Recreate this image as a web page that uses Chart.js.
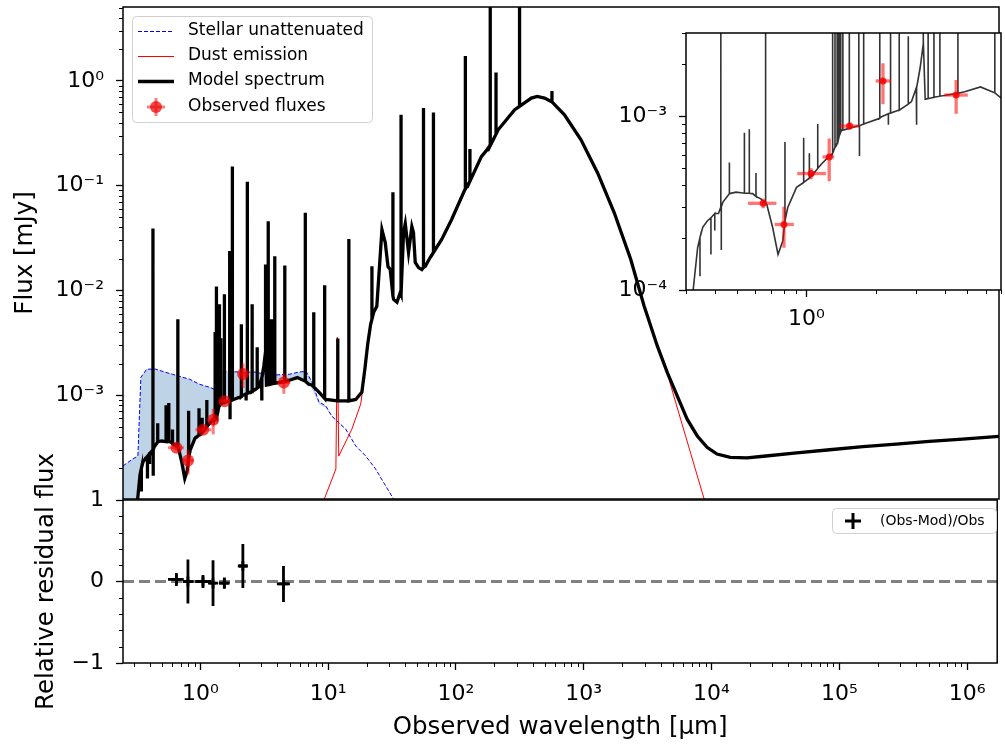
<!DOCTYPE html>
<html lang="en">
<head>
<meta charset="UTF-8">
<title>SED fit</title>
<script src="https://cdn.jsdelivr.net/npm/chart.js@4.4.1/dist/chart.umd.min.js"></script>
<style>
  html, body { margin: 0; padding: 0; background: #fff; }
  body { width: 1005px; height: 748px; position: relative; overflow: hidden; }
  canvas { position: absolute; }
</style>
</head>
<body>
<canvas id="sedMain" width="1005" height="505" style="left:0;top:0"></canvas>
<canvas id="sedResid" width="1005" height="348" style="left:0;top:400px"></canvas>
<canvas id="sedInset" width="405" height="320" style="left:600px;top:20px"></canvas>
<script>
// --- axis ranges ---
const X_MIN = 0.248, X_MAX = 1.72e6;
const Y_MIN = 1.02e-4, Y_MAX = 5.07;
const INSET_X_MIN = 0.30, INSET_X_MAX = 7.0;
const INSET_Y_MIN = 1e-4, INSET_Y_MAX = 3.0e-3;

// --- model continuum (um, mJy) ---
const contWl = [0.31, 0.318, 0.323, 0.337, 0.355, 0.372, 0.40, 0.415, 0.434, 0.463, 0.495, 0.584, 0.634, 0.673,
  0.714, 0.753, 0.79, 0.83, 0.906, 1.0, 1.058, 1.168, 1.247, 1.30, 1.36, 1.42, 1.58, 1.81, 2.12, 2.51, 2.86,
  3.0, 3.12, 3.22, 3.28, 3.48, 4.1, 4.87, 5.7, 6.56, 7.0, 7.42, 8.41, 9.53, 12.0, 14.4, 16.3, 18.2, 19.2, 20.2,
  21.3, 22.5, 23.8, 25.4, 26.1, 27.7, 29.1, 30.3, 32.2, 34.2, 36.3, 38.5, 39.7, 42.1, 44.7, 46.0, 47.5, 50.4,
  53.5, 56.8, 62.1, 65.9, 76.4, 91.4, 116, 156, 211, 284, 383, 426, 486, 547, 695, 936, 1262, 1702, 2290, 2910,
  3090, 3690, 4420, 5280, 6310, 7550, 9030, 10800, 13700, 18500, 24900, 45200, 82000, 149000, 271000, 491000,
  893000, 1720000];
const contFlux = [6.0e-5, 8.0e-5, 1.03e-4, 1.75e-4, 2.3e-4, 2.5e-4, 2.75e-4, 2.75e-4, 3.2e-4, 3.58e-4, 3.65e-4,
  3.58e-4, 3.34e-4, 3.1e-4, 2.28e-4, 1.6e-4, 1.92e-4, 2.98e-4, 3.89e-4, 4.27e-4, 4.56e-4, 5.33e-4, 5.82e-4,
  6.1e-4, 7.0e-4, 8.3e-4, 8.6e-4, 9.1e-4, 9.9e-4, 1.08e-3, 1.21e-3, 1.45e-3, 1.9e-3, 2.7e-3, 1.25e-3, 1.27e-3,
  1.32e-3, 1.38e-3, 1.47e-3, 1.36e-3, 1.27e-3, 1.25e-3, 1.07e-3, 9.1e-4, 8.8e-4, 8.8e-4, 9.1e-4, 1.07e-3,
  1.77e-3, 3.06e-3, 4.74e-3, 6.17e-3, 7.04e-3, 0.023, 0.038, 0.0286, 0.0169, 0.0158, 0.0082, 0.0077, 0.0096,
  0.0357, 0.0434, 0.023, 0.0407, 0.0357, 0.0185, 0.0165, 0.0158, 0.0169, 0.0206, 0.023, 0.0306, 0.0475, 0.0916,
  0.189, 0.341, 0.53, 0.684, 0.709, 0.684, 0.635, 0.474, 0.274, 0.132, 0.055, 0.0197, 0.0071, 0.0057, 0.00295,
  1.64e-3, 9.85e-4, 5.9e-4, 4.1e-4, 3.18e-4, 2.74e-4, 2.55e-4, 2.52e-4, 2.61e-4, 2.81e-4, 3.01e-4, 3.22e-4,
  3.41e-4, 3.62e-4, 3.81e-4, 4.04e-4];

// --- nebular lines / absorption features: wavelength, continuum under it, tip ---
const lineWl = [0.345, 0.385, 0.40, 0.425, 0.427, 0.463, 0.538, 0.565, 0.604, 0.665, 0.807, 0.973, 1.03, 1.12,
  1.30, 1.331, 1.36, 1.38, 1.398, 1.41, 1.44, 1.536, 1.689, 1.70, 1.773, 2.083, 2.27, 2.32, 2.53, 2.77, 3.01,
  3.218, 3.378, 3.58, 3.8, 4.55, 6.58, 7.66, 9.32, 11.8, 14.4, 21.8, 31.8, 36.8, 55.1, 65.9, 117, 127, 183, 203,
  310, 555];
const lineBase = [2.0e-4, 2.6e-4, 2.75e-4, 3.0e-4, 3.0e-4, 3.58e-4, 3.6e-4, 3.6e-4, 3.45e-4, 3.15e-4, 2.5e-4,
  4.15e-4, 4.4e-4, 5.0e-4, 6.1e-4, 6.6e-4, 7.0e-4, 7.4e-4, 8.0e-4, 8.1e-4, 8.3e-4, 8.5e-4, 8.8e-4, 8.8e-4,
  9.0e-4, 9.7e-4, 1.03e-3, 1.04e-3, 1.08e-3, 1.17e-3, 1.45e-3, 2.6e-3, 1.26e-3, 1.28e-3, 1.3e-3, 1.35e-3,
  1.36e-3, 1.2e-3, 9.3e-4, 8.8e-4, 8.8e-4, 5.3e-3, 0.0088, 0.0092, 0.0166, 0.023, 0.093, 0.11, 0.24, 0.31,
  0.57, 0.63];
const linePeak = [1.2e-4, 1.6e-4, 2.2e-4, 0.039, 1.7e-4, 5.4e-4, 8.0e-4, 8.4e-4, 4.7e-4, 5.3e-3, 7.1e-4, 7.5e-4,
  6.1e-4, 9.0e-4, 4.0e-3, 0.0109, 4.5e-3, 3.2e-3, 7.36e-3, 5.0e-3, 3.5e-3, 9.16e-3, 0.0237, 5.9e-4, 0.152,
  4.75e-3, 8.9e-4, 0.109, 7.36e-3, 2.87e-3, 8.9e-4, 0.0177, 0.0457, 5.3e-3, 0.0212, 0.0173, 0.055, 6.2e-3,
  0.0112, 3.47e-3, 0.031, 0.017, 0.0863, 0.474, 0.55, 0.50, 1.73, 0.224, 20, 1.2, 20, 0.80];

// --- stellar unattenuated ---
const starWl = [0.248, 0.296, 0.324, 0.342, 0.38, 0.447, 0.525, 0.606, 0.724, 0.821, 0.982, 1.175, 1.28, 1.42,
  1.58, 2.01, 2.67, 3.44, 4.92, 5.87, 6.67, 7.42, 8.41, 9.03, 9.53, 10.6, 13.6, 16.3, 19.5, 23.3, 27.9, 32.2, 35.2];
const starFlux = [2.11e-4, 2.46e-4, 2.62e-4, 1.48e-3, 1.77e-3, 1.77e-3, 1.66e-3, 1.58e-3, 1.48e-3, 1.42e-3,
  1.27e-3, 1.19e-3, 1.14e-3, 1.65e-3, 1.69e-3, 1.66e-3, 1.66e-3, 1.55e-3, 1.58e-3, 1.66e-3, 1.69e-3, 1.33e-3,
  8.6e-4, 8.2e-4, 7.85e-4, 6.3e-4, 4.74e-4, 3.27e-4, 2.62e-4, 1.97e-4, 1.36e-4, 1.02e-4, 8.6e-5];

// --- stellar attenuated (lower edge of the shaded band) ---
const starAttWl = [0.248, 0.30, 0.318, 0.323, 0.337, 0.372, 0.40, 0.434, 0.495, 0.584, 0.673, 0.714, 0.753,
  0.79, 0.83, 0.906, 1.0, 1.168, 1.28, 1.42, 1.81, 2.51, 3.48, 4.87, 5.7, 6.67, 7.42, 8.41, 9.53, 10.6, 13.6,
  16.3, 19.5, 23.3, 27.9, 32.2, 35.2];
const starAttFlux = [3e-5, 5e-5, 8e-5, 1.03e-4, 1.75e-4, 2.5e-4, 2.75e-4, 3.2e-4, 3.6e-4, 3.55e-4, 3.1e-4,
  2.28e-4, 1.6e-4, 1.92e-4, 2.98e-4, 3.89e-4, 4.27e-4, 5.3e-4, 5.9e-4, 8.3e-4, 9.1e-4, 1.08e-3, 1.25e-3,
  1.36e-3, 1.45e-3, 1.4e-3, 1.15e-3, 8.2e-4, 7.6e-4, 6.2e-4, 4.7e-4, 3.27e-4, 2.62e-4, 1.97e-4, 1.36e-4,
  1.02e-4, 8.6e-5];

// --- dust emission: rising part and radio-side fall-off (middle follows the model continuum) ---
const dustWl = [8.2, 9.2, 11.4, 11.7, 12.0, 15.2, 17.8, 18.5];
const dustFlux = [6.5e-5, 1.0e-4, 1.97e-4, 3.57e-3, 2.62e-4, 4.74e-4, 8.2e-4, 1.14e-3];
const dustTailWl = [4420, 5610, 8610, 9500];
const dustTailFlux = [1.6e-3, 5.9e-4, 1.0e-4, 7e-5];

// --- observed fluxes ---
const obsWl = [0.649, 0.799, 1.048, 1.256, 1.54, 2.15, 4.47];
const obsWlLo = [0.558, 0.728, 0.912, 1.175, 1.395, 2.0, 3.97];
const obsWlHi = [0.741, 0.882, 1.215, 1.32, 1.69, 2.33, 5.02];
const obsFlux = [3.15e-4, 2.38e-4, 4.67e-4, 5.82e-4, 8.75e-4, 1.59e-3, 1.32e-3];
const obsErr = [2.0e-5, 6.3e-5, 3.4e-5, 1.6e-4, 4.0e-5, 4.2e-4, 2.9e-4];

// --- residuals ---
const resVal = [0.025, 0.0, 0.0, -0.02, -0.02, 0.19, -0.03];
const resErr = [0.08, 0.27, 0.08, 0.28, 0.07, 0.27, 0.22];
const resTicks = [-1, -0.8, -0.6, -0.4, -0.2, 0, 0.2, 0.4, 0.6, 0.8, 1];

// ---------------------------------------------------------------
Chart.defaults.font.family = "'DejaVu Sans', sans-serif";
Chart.defaults.color = '#000';
Chart.defaults.animation = false;
Chart.defaults.events = [];
Chart.defaults.plugins.legend.display = false;
Chart.defaults.plugins.tooltip.enabled = false;

const pts = (xs, ys) => xs.map((x, i) => ({x, y: ys[i]}));

// continuum + each line as up/down spike at its wavelength
const modelData = pts(contWl, contFlux);
lineWl.forEach((w, i) => {
  modelData.push({x: w, y: lineBase[i]}, {x: w, y: linePeak[i]}, {x: w, y: lineBase[i]});
});
modelData.sort((a, b) => a.x - b.x);

const dustData = pts(dustWl, dustFlux)
  .concat(pts(contWl, contFlux).filter(p => p.x >= 19 && p.x <= 3690))
  .concat(pts(dustTailWl, dustTailFlux));

const SUP = {'-': '\u207B', '0': '\u2070', '1': '\u00B9', '2': '\u00B2', '3': '\u00B3', '4': '\u2074',
  '5': '\u2075', '6': '\u2076', '7': '\u2077', '8': '\u2078', '9': '\u2079'};
const isDecade = v => Math.abs(Math.log10(v) - Math.round(Math.log10(v))) < 1e-6;
const decadeLabel = v => isDecade(v)
  ? '10' + String(Math.round(Math.log10(v))).split('').map(c => SUP[c]).join('') : '';
const isWhole = v => Math.abs(v - Math.round(v)) < 1e-6;

function logTicks(min, max) {
  const out = [];
  for (let e = Math.floor(Math.log10(min)); e <= Math.ceil(Math.log10(max)); e++) {
    for (let m = 1; m <= 9; m++) {
      const v = m * Math.pow(10, e);
      if (v >= min * 0.999999 && v <= max * 1.000001) out.push({value: v});
    }
  }
  return out;
}

const majorGrid = isMajor => ({
  drawOnChartArea: false, drawTicks: true, tickLength: 7, tickWidth: 1.3,
  tickColor: c => (c.tick && isMajor(c.tick.value)) ? '#000' : 'rgba(0,0,0,0)'
});

// matplotlib-like frame
const frame = {
  id: 'frame',
  afterDraw(chart) {
    const {ctx, chartArea: a} = chart;
    ctx.save();
    ctx.strokeStyle = '#000';
    ctx.lineWidth = 1.5;
    ctx.strokeRect(a.left, a.top, a.right - a.left, a.bottom - a.top);
    ctx.restore();
  }
};

// short minor ticks
const minorTicks = {
  id: 'minorTicks',
  afterDraw(chart) {
    const {ctx, chartArea: a} = chart;
    ctx.save();
    ctx.strokeStyle = '#000';
    ctx.lineWidth = 1;
    ['x', 'y'].forEach(id => {
      const s = chart.scales[id];
      if (!s || !s.options.display) return;
      const major = s.type === 'logarithmic' ? isDecade : isWhole;
      s.ticks.forEach(t => {
        if (major(t.value)) return;
        const p = Math.round(s.getPixelForValue(t.value)) + 0.5;
        ctx.beginPath();
        if (id === 'x') { ctx.moveTo(p, a.bottom); ctx.lineTo(p, a.bottom + 4); }
        else { ctx.moveTo(a.left, p); ctx.lineTo(a.left - 4, p); }
        ctx.stroke();
      });
    });
    ctx.restore();
  }
};

// x / y error bars through the chart scales
const errorBars = {
  id: 'errorBars',
  afterDatasetsDraw(chart, args, o) {
    if (!o || !o.ys) return;
    const {ctx, chartArea: a, scales: {x, y}} = chart;
    ctx.save();
    ctx.beginPath();
    ctx.rect(a.left, a.top, a.right - a.left, a.bottom - a.top);
    ctx.clip();
    ctx.strokeStyle = o.color;
    ctx.lineWidth = o.width;
    o.xs.forEach((w, i) => {
      const px = x.getPixelForValue(w), py = y.getPixelForValue(o.ys[i]);
      ctx.beginPath();
      ctx.moveTo(x.getPixelForValue(o.xlo[i]), py);
      ctx.lineTo(x.getPixelForValue(o.xhi[i]), py);
      ctx.stroke();
      ctx.beginPath();
      ctx.moveTo(px, y.getPixelForValue(o.ys[i] - o.err[i]));
      ctx.lineTo(px, y.getPixelForValue(o.ys[i] + o.err[i]));
      ctx.stroke();
    });
    ctx.restore();
  }
};

function legendBox(ctx, x, y, w, h) {
  ctx.beginPath();
  if (ctx.roundRect) ctx.roundRect(x, y, w, h, 4); else ctx.rect(x, y, w, h);
  ctx.fillStyle = 'rgba(255,255,255,0.8)';
  ctx.fill();
  ctx.strokeStyle = '#d0d0d0';
  ctx.lineWidth = 1;
  ctx.stroke();
}

const mainLegend = {
  id: 'mainLegend',
  afterDraw(chart) {
    const ctx = chart.ctx;
    const ds = chart.data.datasets;
    const rows = [
      {ds: ds[0], y: 31, kind: 'line'},
      {ds: ds[2], y: 56, kind: 'line'},
      {ds: ds[3], y: 81, kind: 'line'},
      {ds: ds[4], y: 107, kind: 'marker'}
    ];
    ctx.save();
    legendBox(ctx, 132.5, 16.5, 240, 106);
    rows.forEach(r => {
      if (r.kind === 'line') {
        ctx.beginPath();
        ctx.setLineDash(r.ds.borderDash || []);
        ctx.strokeStyle = r.ds.borderColor;
        ctx.lineWidth = r.ds.borderWidth;
        ctx.moveTo(138, r.y + 0.5);
        ctx.lineTo(174, r.y + 0.5);
        ctx.stroke();
        ctx.setLineDash([]);
      } else {
        ctx.strokeStyle = 'rgba(255,0,0,0.5)';
        ctx.lineWidth = 3;
        ctx.beginPath();
        ctx.moveTo(147, r.y); ctx.lineTo(165, r.y);
        ctx.moveTo(156, r.y - 9); ctx.lineTo(156, r.y + 9);
        ctx.stroke();
        ctx.beginPath();
        ctx.arc(156, r.y, 6, 0, Math.PI * 2);
        ctx.fillStyle = r.ds.pointBackgroundColor;
        ctx.fill();
      }
      ctx.fillStyle = '#000';
      ctx.font = "17px 'DejaVu Sans'";
      ctx.textBaseline = 'middle';
      ctx.fillText(r.ds.label, 188, r.y);
    });
    ctx.restore();
  }
};

const residLegend = {
  id: 'residLegend',
  afterDraw(chart) {
    const ctx = chart.ctx;
    const ds = chart.data.datasets[1];
    ctx.save();
    legendBox(ctx, 832.5, 108.5, 164, 25);
    ctx.strokeStyle = '#000';
    ctx.lineWidth = 3;
    ctx.beginPath();
    ctx.moveTo(845, 121); ctx.lineTo(861, 121);
    ctx.moveTo(853, 113); ctx.lineTo(853, 129);
    ctx.stroke();
    ctx.fillStyle = '#000';
    ctx.font = "14px 'DejaVu Sans'";
    ctx.textBaseline = 'middle';
    ctx.fillText(ds.label, 880, 121);
    ctx.restore();
  }
};

const whiteArea = {
  id: 'whiteArea',
  beforeDraw(chart) {
    const {ctx, chartArea: a} = chart;
    ctx.save();
    ctx.fillStyle = '#fff';
    ctx.fillRect(a.left, a.top, a.right - a.left, a.bottom - a.top);
    ctx.restore();
  }
};

const obsColor = 'rgba(235,0,0,0.7)';

// ---------------- main panel ----------------
new Chart(document.getElementById('sedMain'), {
  type: 'line',
  data: {
    datasets: [
      {label: 'Stellar unattenuated', data: pts(starWl, starFlux), borderColor: '#0000ff', borderWidth: 1,
        borderDash: [4, 2], pointRadius: 0, fill: '+1', backgroundColor: 'rgba(70,130,180,0.35)', clip: 0, order: 4},
      {label: 'stellar attenuated', data: pts(starAttWl, starAttFlux), borderColor: 'rgba(0,0,0,0)', borderWidth: 0,
        pointRadius: 0, fill: false, clip: 0, order: 3},
      {label: 'Dust emission', data: dustData, borderColor: '#ff0000', borderWidth: 1, pointRadius: 0,
        fill: false, clip: 0, order: 2},
      {label: 'Model spectrum', data: modelData, borderColor: '#000', borderWidth: 3.3, pointRadius: 0,
        fill: false, clip: 0, order: 1},
      {label: 'Observed fluxes', data: pts(obsWl, obsFlux), showLine: false, pointRadius: 6, pointBorderWidth: 0,
        pointBackgroundColor: obsColor, clip: 0, order: 0}
    ]
  },
  options: {
    responsive: false,
    devicePixelRatio: 1,
    layout: {padding: {left: 0, top: 7, right: 2, bottom: 5}},
    scales: {
      x: {type: 'logarithmic', display: false, min: X_MIN, max: X_MAX},
      y: {
        type: 'logarithmic', min: Y_MIN, max: Y_MAX, bounds: 'data',
        afterBuildTicks: s => { s.ticks = logTicks(Y_MIN, Y_MAX); },
        afterFit: s => { s.width = 123; s.paddingTop = 0; s.paddingBottom = 0; },
        ticks: {autoSkip: false, maxRotation: 0, font: {size: 22}, padding: 12, callback: v => decadeLabel(v)},
        grid: majorGrid(isDecade),
        border: {display: false},
        title: {display: true, text: 'Flux [mJy]', font: {size: 24.5}, padding: {top: 11, bottom: 0}}
      }
    },
    plugins: {
      errorBars: {xs: obsWl, ys: obsFlux, err: obsErr, xlo: obsWlLo, xhi: obsWlHi,
        color: 'rgba(255,0,0,0.5)', width: 3}
    }
  },
  plugins: [errorBars, frame, minorTicks, mainLegend]
});

// ---------------- residual panel ----------------
new Chart(document.getElementById('sedResid'), {
  type: 'line',
  data: {
    datasets: [
      {label: 'zero', data: [{x: X_MIN, y: 0}, {x: X_MAX, y: 0}], borderColor: '#808080', borderWidth: 3,
        borderDash: [11, 5], pointRadius: 0, fill: false, order: 1},
      {label: '(Obs-Mod)/Obs', data: pts(obsWl, resVal), showLine: false, pointStyle: 'cross', pointRadius: 5,
        pointBorderWidth: 2.8, pointBorderColor: '#000', order: 0}
    ]
  },
  options: {
    responsive: false,
    devicePixelRatio: 1,
    layout: {padding: {left: 0, top: 100, right: 2, bottom: 0}},
    scales: {
      x: {
        type: 'logarithmic', min: X_MIN, max: X_MAX, bounds: 'data',
        afterBuildTicks: s => { s.ticks = logTicks(X_MIN, X_MAX); },
        afterFit: s => { s.height = 85; s.paddingLeft = 0; s.paddingRight = 0; },
        ticks: {autoSkip: false, maxRotation: 0, minRotation: 0, font: {size: 22}, padding: 11,
          callback: v => decadeLabel(v)},
        grid: majorGrid(isDecade),
        border: {display: false},
        title: {display: true, text: 'Observed wavelength [\u03BCm]', font: {size: 24.5}, padding: {top: 0, bottom: 6}}
      },
      y: {
        type: 'linear', min: -1, max: 1,
        afterBuildTicks: s => { s.ticks = resTicks.map(v => ({value: v})); },
        afterFit: s => { s.width = 123; s.paddingTop = 0; s.paddingBottom = 0; },
        ticks: {autoSkip: false, font: {size: 22}, padding: 12,
          callback: v => isWhole(v) ? (v < 0 ? '\u2212' + Math.abs(v) : String(Math.round(v))) : ''},
        grid: majorGrid(isWhole),
        border: {display: false},
        title: {display: true, text: 'Relative residual flux', font: {size: 24.5}, padding: {top: 32, bottom: 0}}
      }
    },
    plugins: {
      errorBars: {xs: obsWl, ys: resVal, err: resErr, xlo: obsWlLo, xhi: obsWlHi, color: '#000', width: 2.8}
    }
  },
  plugins: [errorBars, frame, minorTicks, residLegend]
});

// ---------------- inset ----------------
new Chart(document.getElementById('sedInset'), {
  type: 'line',
  data: {
    datasets: [
      {label: 'Model spectrum', data: modelData, borderColor: '#333333', borderWidth: 1.6, pointRadius: 0,
        fill: false, clip: 0, order: 1},
      {label: 'Observed fluxes', data: pts(obsWl, obsFlux), showLine: false, pointRadius: 3.5, pointBorderWidth: 0,
        pointBackgroundColor: 'rgba(235,0,0,0.8)', clip: 0, order: 0}
    ]
  },
  options: {
    responsive: false,
    devicePixelRatio: 1,
    layout: {padding: {left: 0, top: 13, right: 2, bottom: 0}},
    scales: {
      x: {
        type: 'logarithmic', min: INSET_X_MIN, max: INSET_X_MAX, bounds: 'data',
        afterBuildTicks: s => { s.ticks = logTicks(INSET_X_MIN, INSET_X_MAX); },
        afterFit: s => { s.height = 50; s.paddingLeft = 0; s.paddingRight = 0; },
        ticks: {autoSkip: false, maxRotation: 0, minRotation: 0, font: {size: 22}, padding: 9,
          callback: v => decadeLabel(v)},
        grid: majorGrid(isDecade),
        border: {display: false}
      },
      y: {
        type: 'logarithmic', min: INSET_Y_MIN, max: INSET_Y_MAX, bounds: 'data',
        afterBuildTicks: s => { s.ticks = logTicks(INSET_Y_MIN, INSET_Y_MAX); },
        afterFit: s => { s.width = 86; s.paddingTop = 0; s.paddingBottom = 0; },
        ticks: {autoSkip: false, font: {size: 22}, padding: 12, callback: v => decadeLabel(v)},
        grid: majorGrid(isDecade),
        border: {display: false}
      }
    },
    plugins: {
      errorBars: {xs: obsWl, ys: obsFlux, err: obsErr, xlo: obsWlLo, xhi: obsWlHi,
        color: 'rgba(255,0,0,0.55)', width: 3.3}
    }
  },
  plugins: [whiteArea, errorBars, frame, minorTicks]
});
</script>
</body>
</html>
